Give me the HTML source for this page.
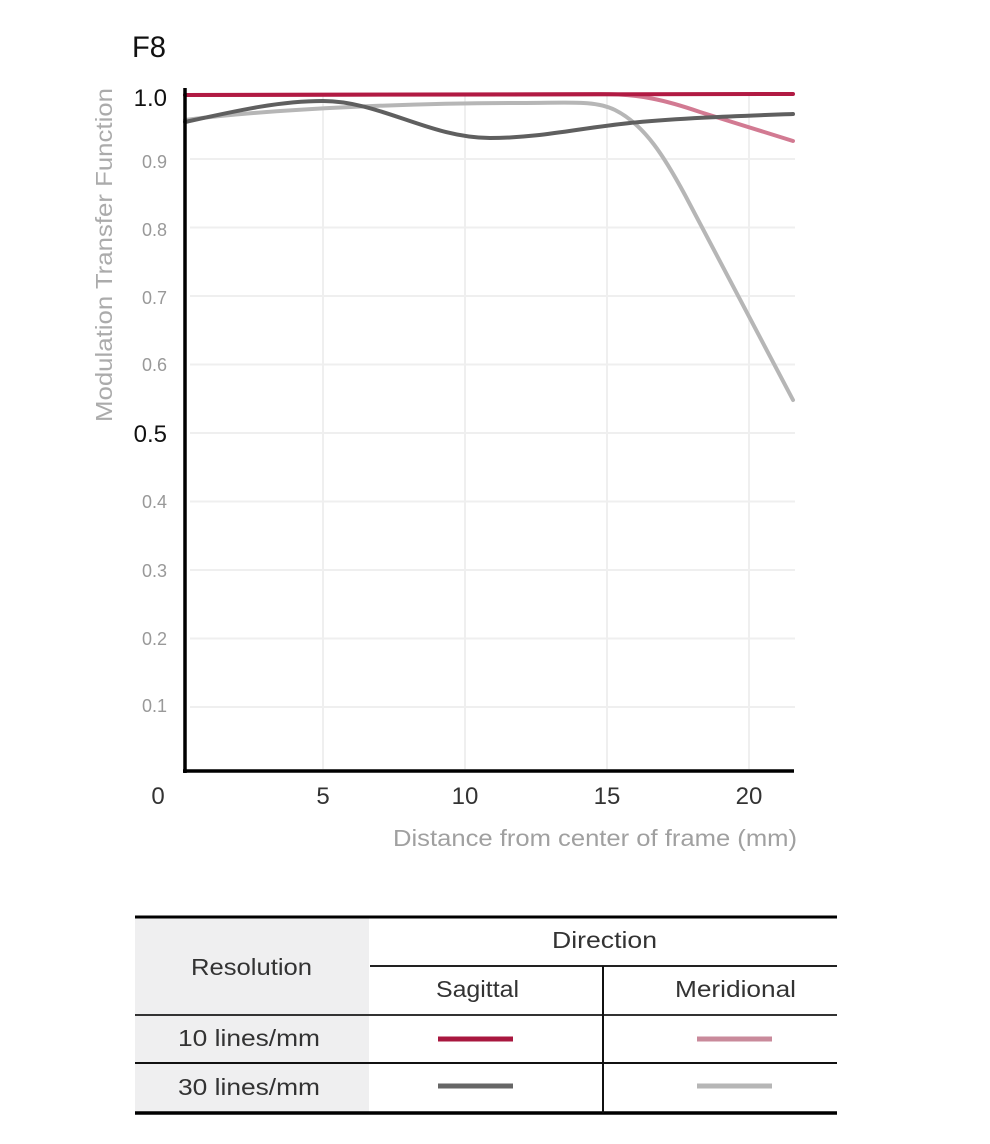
<!DOCTYPE html>
<html>
<head>
<meta charset="utf-8">
<style>
  html,body{margin:0;padding:0;background:#fff;}
  svg{display:block;}
  text{font-family:"Liberation Sans",sans-serif;}
</style>
</head>
<body>
<svg width="990" height="1144" viewBox="0 0 990 1144" xmlns="http://www.w3.org/2000/svg">
  <rect width="990" height="1144" fill="#fff"/>

  <!-- Title -->
  <text x="132" y="57" font-size="30" fill="#111" textLength="34" lengthAdjust="spacingAndGlyphs">F8</text>

  <!-- Gridlines -->
  <g stroke="#efefef" stroke-width="2">
    <line x1="190" y1="159" x2="795" y2="159"/>
    <line x1="190" y1="227.5" x2="795" y2="227.5"/>
    <line x1="190" y1="296" x2="795" y2="296"/>
    <line x1="190" y1="364.5" x2="795" y2="364.5"/>
    <line x1="190" y1="433" x2="795" y2="433"/>
    <line x1="190" y1="501.5" x2="795" y2="501.5"/>
    <line x1="190" y1="570" x2="795" y2="570"/>
    <line x1="190" y1="638.5" x2="795" y2="638.5"/>
    <line x1="190" y1="707" x2="795" y2="707"/>
    <line x1="323" y1="95" x2="323" y2="769"/>
    <line x1="465" y1="95" x2="465" y2="769"/>
    <line x1="607" y1="95" x2="607" y2="769"/>
    <line x1="749" y1="95" x2="749" y2="769"/>
  </g>

  <!-- Y tick labels -->
  <text x="167" y="106" font-size="24" fill="#111" text-anchor="end">1.0</text>
  <g font-size="18" fill="#999" text-anchor="end">
    <text x="167" y="168">0.9</text>
    <text x="167" y="236">0.8</text>
    <text x="167" y="304">0.7</text>
    <text x="167" y="371">0.6</text>
    <text x="167" y="508">0.4</text>
    <text x="167" y="577">0.3</text>
    <text x="167" y="645">0.2</text>
    <text x="167" y="712">0.1</text>
  </g>
  <text x="167" y="442" font-size="24" fill="#111" text-anchor="end">0.5</text>

  <!-- Y axis title -->
  <text transform="translate(112,255) rotate(-90)" x="0" y="0" font-size="23" fill="#ababab" text-anchor="middle" textLength="334" lengthAdjust="spacingAndGlyphs">Modulation Transfer Function</text>

  <!-- X tick labels -->
  <g font-size="24" fill="#333" text-anchor="middle">
    <text x="158" y="804">0</text>
    <text x="323" y="804">5</text>
    <text x="465" y="804">10</text>
    <text x="607" y="804">15</text>
    <text x="749" y="804">20</text>
  </g>
  <text x="393" y="846" font-size="23" fill="#a0a0a0" textLength="404" lengthAdjust="spacingAndGlyphs">Distance from center of frame (mm)</text>

  <!-- Curves -->
  <g fill="none" stroke-width="4" stroke-linecap="round" stroke-linejoin="round">
    <!-- 30 lines/mm meridional -->
    <path d="M185,120 C280,108 420,103 520,103 C570,103 595,100 615,110 C645,125 665,158 685,195 L793,400" stroke="#b6b6b6"/>
    <!-- 10 lines/mm meridional -->
    <path d="M185,95 L600,94 C640,94 665,100 700,112 L793,141" stroke="#d27a92"/>
    <!-- 30 lines/mm sagittal -->
    <path d="M185,122 C240,110 280,101 323,101 C380,101 430,138 490,138 C540,138 580,128 630,123 C680,118 740,116 793,114" stroke="#5f5f5f"/>
    <!-- 10 lines/mm sagittal -->
    <path d="M185,95 L793,94" stroke="#b11a43"/>
  </g>

  <!-- Axes -->
  <line x1="185" y1="88" x2="185" y2="773" stroke="#000" stroke-width="3.5"/>
  <line x1="183" y1="771" x2="794" y2="771" stroke="#000" stroke-width="3.5"/>

  <!-- Legend table -->
  <rect x="135" y="918" width="234" height="194" fill="#efeff0"/>
  <line x1="135" y1="917" x2="837" y2="917" stroke="#000" stroke-width="3"/>
  <line x1="370" y1="966" x2="837" y2="966" stroke="#222" stroke-width="2"/>
  <line x1="135" y1="1015" x2="837" y2="1015" stroke="#333" stroke-width="2"/>
  <line x1="135" y1="1063" x2="837" y2="1063" stroke="#111" stroke-width="2"/>
  <line x1="135" y1="1113" x2="837" y2="1113" stroke="#000" stroke-width="3.5"/>
  <line x1="603" y1="966" x2="603" y2="1113" stroke="#111" stroke-width="2"/>

  <g font-size="23" fill="#333">
    <text x="191" y="975" textLength="121" lengthAdjust="spacingAndGlyphs">Resolution</text>
    <text x="552" y="948" textLength="105" lengthAdjust="spacingAndGlyphs">Direction</text>
    <text x="436" y="997" textLength="83" lengthAdjust="spacingAndGlyphs">Sagittal</text>
    <text x="675" y="997" textLength="121" lengthAdjust="spacingAndGlyphs">Meridional</text>
    <text x="178" y="1046" textLength="142" lengthAdjust="spacingAndGlyphs">10 lines/mm</text>
    <text x="178" y="1095" textLength="142" lengthAdjust="spacingAndGlyphs">30 lines/mm</text>
  </g>

  <g stroke-width="5">
    <line x1="438" y1="1039" x2="513" y2="1039" stroke="#a8173f"/>
    <line x1="697" y1="1039" x2="772" y2="1039" stroke="#c98a9b"/>
    <line x1="438" y1="1086" x2="513" y2="1086" stroke="#666"/>
    <line x1="697" y1="1086" x2="772" y2="1086" stroke="#b6b6b6"/>
  </g>
</svg>
</body>
</html>
